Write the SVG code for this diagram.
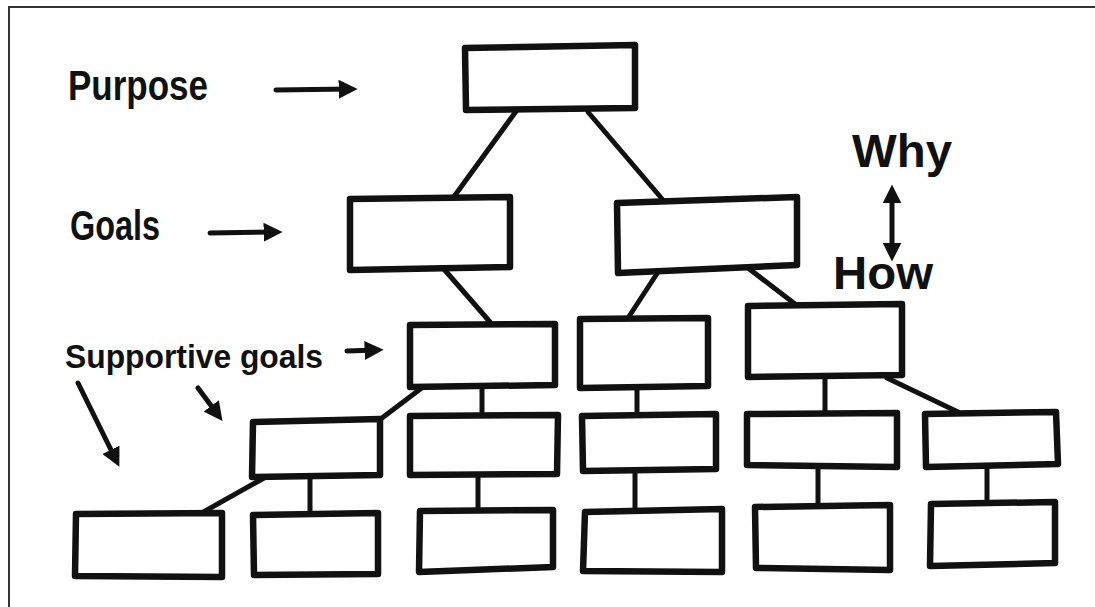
<svg xmlns="http://www.w3.org/2000/svg" width="1095" height="607" viewBox="0 0 1095 607">
<style>
.box{fill:#fff;stroke:#111;stroke-width:6.5;stroke-linejoin:round}
.con{stroke:#111;stroke-width:5;stroke-linecap:round;fill:none}
.arr{stroke:#111;stroke-width:5;stroke-linecap:round;fill:none}
.lbl{font-family:"Liberation Sans","DejaVu Sans",sans-serif;font-weight:bold;fill:#111}
</style>
<defs>
<marker id="ah" viewBox="0 0 10 10" refX="6" refY="5" markerWidth="3.8" markerHeight="3.8" orient="auto-start-reverse" markerUnits="strokeWidth">
<path d="M0,0 L10,5 L0,10 Z" fill="#111"/>
</marker>
</defs>
<rect x="0" y="0" width="1095" height="607" fill="#fff"/>
<path d="M9,607 L9,7 L1095,7" fill="none" stroke="#333" stroke-width="2"/>

<g id="connectors">
<line class="con" x1="517" y1="110" x2="453" y2="198"/>
<line class="con" x1="588" y1="112" x2="663" y2="200"/>
<line class="con" x1="443" y1="268" x2="490" y2="322"/>
<line class="con" x1="658" y1="272" x2="628" y2="318"/>
<line class="con" x1="748" y1="268" x2="795" y2="304"/>
<line class="con" x1="423" y1="387" x2="378" y2="421"/>
<line class="con" x1="482" y1="385" x2="482" y2="415"/>
<line class="con" x1="637" y1="387" x2="637" y2="415"/>
<line class="con" x1="825" y1="376" x2="825" y2="413"/>
<line class="con" x1="887" y1="378" x2="958" y2="412"/>
<line class="con" x1="264" y1="478" x2="198" y2="515"/>
<line class="con" x1="310" y1="475" x2="310" y2="513"/>
<line class="con" x1="478" y1="475" x2="478" y2="510"/>
<line class="con" x1="635" y1="470" x2="635" y2="508"/>
<line class="con" x1="818" y1="467" x2="818" y2="507"/>
<line class="con" x1="987" y1="467" x2="987" y2="503"/>
</g>

<g id="purpose"><polygon class="box" points="465,48 635,45 635,108 466,110"/></g>
<g id="goal-left"><polygon class="box" points="350,199 510,197 510,267 350,270"/></g>
<g id="goal-right"><polygon class="box" points="617,203 797,197 797,265 618,273"/></g>

<g id="sg-a"><polygon class="box" points="410,325 555,324 555,385 410,387"/></g>
<g id="sg-b"><polygon class="box" points="580,319 708,318 708,386 580,388"/></g>
<g id="sg-c"><polygon class="box" points="748,306 902,304 902,375 748,377"/></g>

<g id="sg-d"><polygon class="box" points="253,422 380,419 380,475 252,477"/></g>
<g id="sg-e"><polygon class="box" points="410,416 558,415 557,474 410,475"/></g>
<g id="sg-f"><polygon class="box" points="582,416 716,414 716,469 583,471"/></g>
<g id="sg-g"><polygon class="box" points="747,414 897,413 897,467 747,465"/></g>
<g id="sg-h"><polygon class="box" points="925,414 1056,412 1058,464 926,467"/></g>

<g id="sg-i"><polygon class="box" points="76,514 222,513 222,577 75,576"/></g>
<g id="sg-j"><polygon class="box" points="253,515 378,513 378,574 254,575"/></g>
<g id="sg-k"><polygon class="box" points="420,511 553,510 553,567 419,572"/></g>
<g id="sg-l"><polygon class="box" points="585,512 722,509 722,572 583,571"/></g>
<g id="sg-m"><polygon class="box" points="755,507 890,505 890,570 756,568"/></g>
<g id="sg-n"><polygon class="box" points="931,504 1055,502 1055,563 930,566"/></g>

<g id="labels">
<text class="lbl" x="68" y="100" font-size="42" textLength="140" lengthAdjust="spacingAndGlyphs">Purpose</text>
<line class="arr" x1="276" y1="90" x2="350" y2="89" marker-end="url(#ah)"/>
<text class="lbl" x="70" y="240" font-size="42" textLength="90" lengthAdjust="spacingAndGlyphs">Goals</text>
<line class="arr" x1="210" y1="233" x2="275" y2="232" marker-end="url(#ah)"/>
<text class="lbl" x="65" y="368" font-size="34" textLength="258" lengthAdjust="spacingAndGlyphs">Supportive goals</text>
<line class="arr" x1="347" y1="351" x2="376" y2="350" marker-end="url(#ah)"/>
<line class="arr" x1="78" y1="383" x2="116" y2="460" marker-end="url(#ah)"/>
<line class="arr" x1="198" y1="388" x2="218" y2="415" marker-end="url(#ah)"/>
<text class="lbl" x="852" y="167" font-size="46" textLength="100" lengthAdjust="spacingAndGlyphs">Why</text>
<line class="arr" x1="892" y1="192" x2="892" y2="254" marker-start="url(#ah)" marker-end="url(#ah)" stroke-width="4"/>
<text class="lbl" x="833" y="289" font-size="46" textLength="100" lengthAdjust="spacingAndGlyphs">How</text>
</g>
</svg>
